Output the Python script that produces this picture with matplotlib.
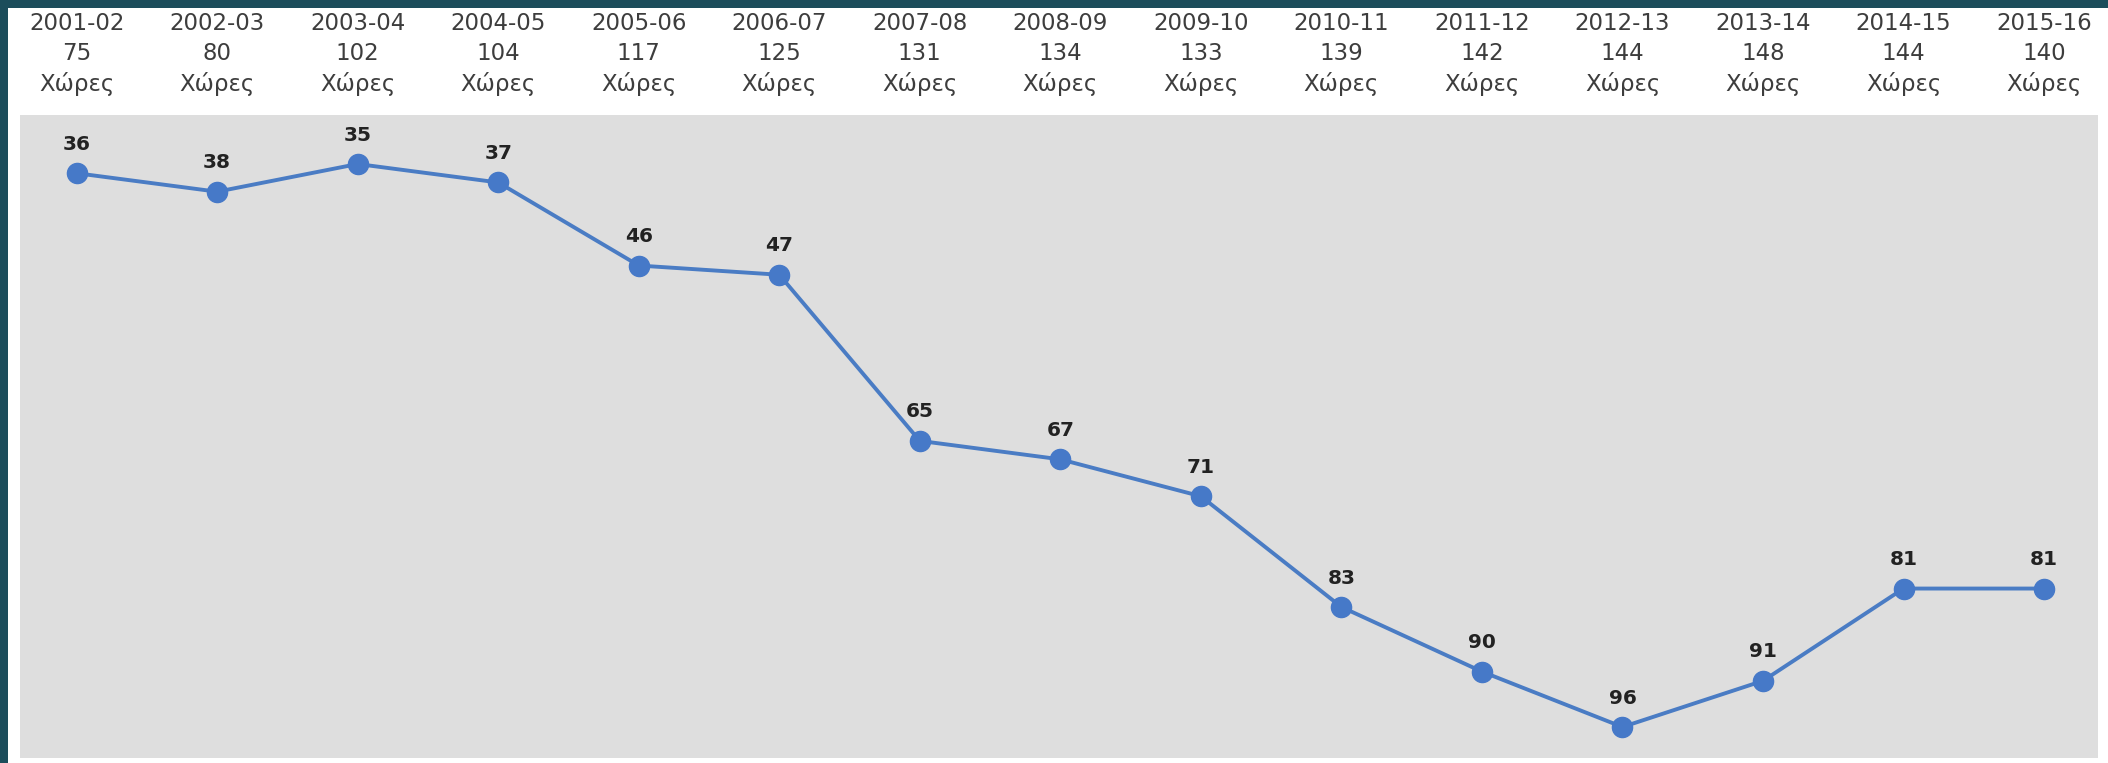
import matplotlib.pyplot as plt
import matplotlib.transforms as mtransforms
from matplotlib.patches import Rectangle

plt.rcParams['font.family'] = ['DejaVu Sans']

# data
seasons = ['2001-02', '2002-03', '2003-04', '2004-05', '2005-06', '2006-07', '2007-08',
           '2008-09', '2009-10', '2010-11', '2011-12', '2012-13', '2013-14', '2014-15', '2015-16']
countries = [75, 80, 102, 104, 117, 125, 131, 134, 133, 139, 142, 144, 148, 144, 140]
ranks = [36, 38, 35, 37, 46, 47, 65, 67, 71, 83, 90, 96, 91, 81, 81]

W, H = 2108, 763
fig = plt.figure(figsize=(W / 100, H / 100), dpi=100)
fig.patch.set_facecolor('#1c4d5b')

# white panel inside the teal frame
fig.patches.append(Rectangle((8 / W, 0), 1 - 8 / W, (H - 8) / H, transform=fig.transFigure,
                             facecolor='white', edgecolor='none', zorder=-10))

ax = fig.add_axes([20 / W, 5 / H, (2098 - 20) / W, (758 - 115) / H])
ax.set_facecolor('#dedede')
for s in ax.spines.values():
    s.set_visible(False)
ax.set_xticks([])
ax.set_yticks([])

x = list(range(len(ranks)))
ax.plot(x, ranks, color='#4a7cc4', lw=2.8, marker='o', markersize=14.5,
        markerfacecolor='#4679c8', markeredgecolor='#4679c8', zorder=3)
ax.set_xlim(-0.403, 14.384)
ax.set_ylim(99.36, 29.69)

for xi, r in zip(x, ranks):
    ax.annotate(str(r), (xi, r), xytext=(0, 14), textcoords='offset points',
                ha='center', va='bottom', fontsize=14.5, fontweight='bold', color='#222222')

# header labels above the plot
trans = mtransforms.blended_transform_factory(ax.transData, fig.transFigure)
for xi, s, c in zip(x, seasons, countries):
    ax.text(xi, 1 - 24 / H, s, transform=trans, ha='center', va='center', fontsize=16.5, color='#3d3d3d')
    ax.text(xi, 1 - 54 / H, str(c), transform=trans, ha='center', va='center', fontsize=16.5, color='#3d3d3d')
    ax.text(xi, 1 - 84 / H, 'Χώρες', transform=trans, ha='center', va='center', fontsize=16.5, color='#3d3d3d')

fig.savefig('out.png', dpi=100, facecolor=fig.get_facecolor())
